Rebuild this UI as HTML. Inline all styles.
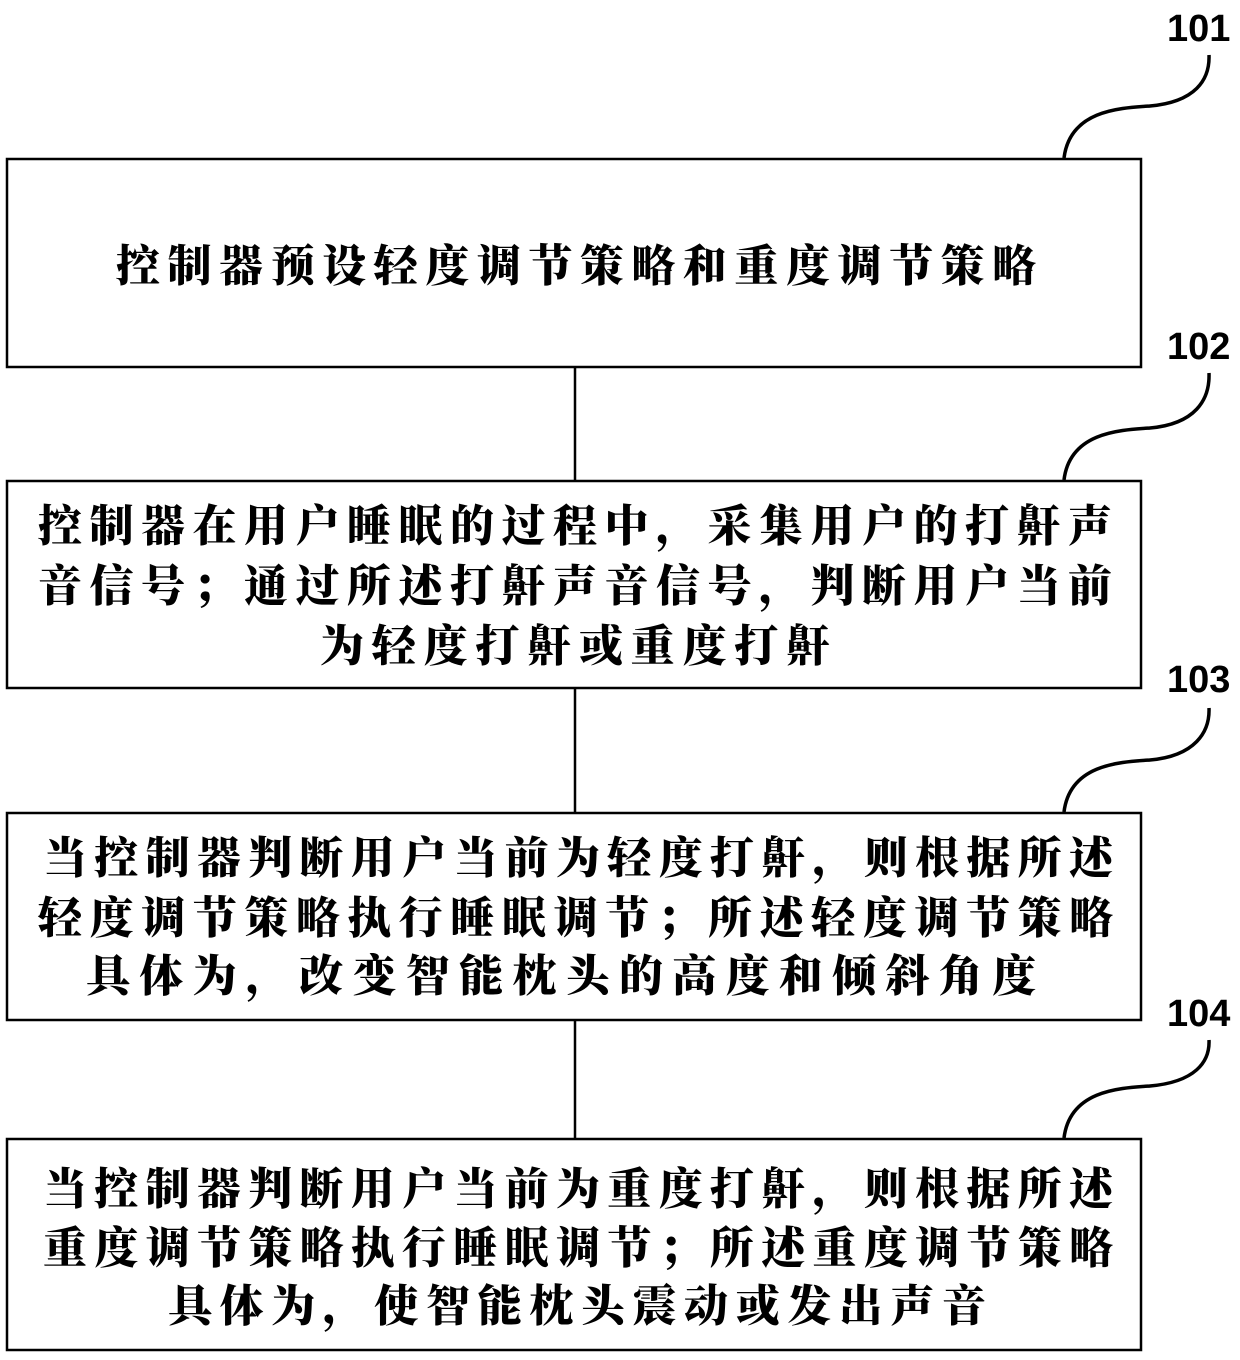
<!DOCTYPE html>
<html><head><meta charset="utf-8"><style>
html,body{margin:0;padding:0;background:#fff;}
svg{display:block;}
text{font-family:"Noto Serif CJK SC","Liberation Serif",serif;font-weight:900;font-size:44px;fill:#000;}
.n{font-family:"Liberation Sans",sans-serif;font-weight:bold;font-size:38px;}
</style></head><body>
<svg width="1240" height="1360" viewBox="0 0 1240 1360" xmlns="http://www.w3.org/2000/svg">
<g fill="none" stroke="#000" stroke-width="2.5">
<rect x="7" y="159" width="1134" height="208"/>
<rect x="7" y="481" width="1134" height="207"/>
<rect x="7" y="813" width="1134" height="207"/>
<rect x="7" y="1139" width="1134" height="211"/>
<line x1="575" y1="367" x2="575" y2="481"/>
<line x1="575" y1="688" x2="575" y2="813"/>
<line x1="575" y1="1020" x2="575" y2="1139"/>
</g>
<g fill="none" stroke="#000" stroke-width="3.5">
<path d="M1064 158 C1070 110 1120 108 1150 106 C1195 102 1210 80 1209 55"/>
<path d="M1064 480 C1070 432 1120 430 1150 428 C1195 424 1210 400 1209 373"/>
<path d="M1064 812 C1070 764 1120 762 1150 760 C1195 756 1210 732 1209 708"/>
<path d="M1064 1138 C1070 1090 1120 1088 1150 1086 C1195 1082 1210 1062 1209 1040"/>
</g>
<text class="n" x="1167" y="41">101</text>
<text class="n" x="1167" y="359">102</text>
<text class="n" x="1167" y="692">103</text>
<text class="n" x="1167" y="1026">104</text>

<text x="116" y="281" textLength="920" lengthAdjust="spacing">控制器预设轻度调节策略和重度调节策略</text>

<text x="38" y="541" textLength="1074" lengthAdjust="spacing">控制器在用户睡眠的过程中，采集用户的打鼾声</text>
<text x="38" y="601" textLength="1074" lengthAdjust="spacing">音信号；通过所述打鼾声音信号，判断用户当前</text>
<text x="320" y="661" textLength="510" lengthAdjust="spacing">为轻度打鼾或重度打鼾</text>

<text x="43" y="873" textLength="1070" lengthAdjust="spacing">当控制器判断用户当前为轻度打鼾，则根据所述</text>
<text x="38" y="933" textLength="1075" lengthAdjust="spacing">轻度调节策略执行睡眠调节；所述轻度调节策略</text>
<text x="86" y="991" textLength="950" lengthAdjust="spacing">具体为，改变智能枕头的高度和倾斜角度</text>

<text x="43" y="1204" textLength="1070" lengthAdjust="spacing">当控制器判断用户当前为重度打鼾，则根据所述</text>
<text x="43" y="1263" textLength="1070" lengthAdjust="spacing">重度调节策略执行睡眠调节；所述重度调节策略</text>
<text x="168" y="1321" textLength="818" lengthAdjust="spacing">具体为，使智能枕头震动或发出声音</text>
</svg>
</body></html>
